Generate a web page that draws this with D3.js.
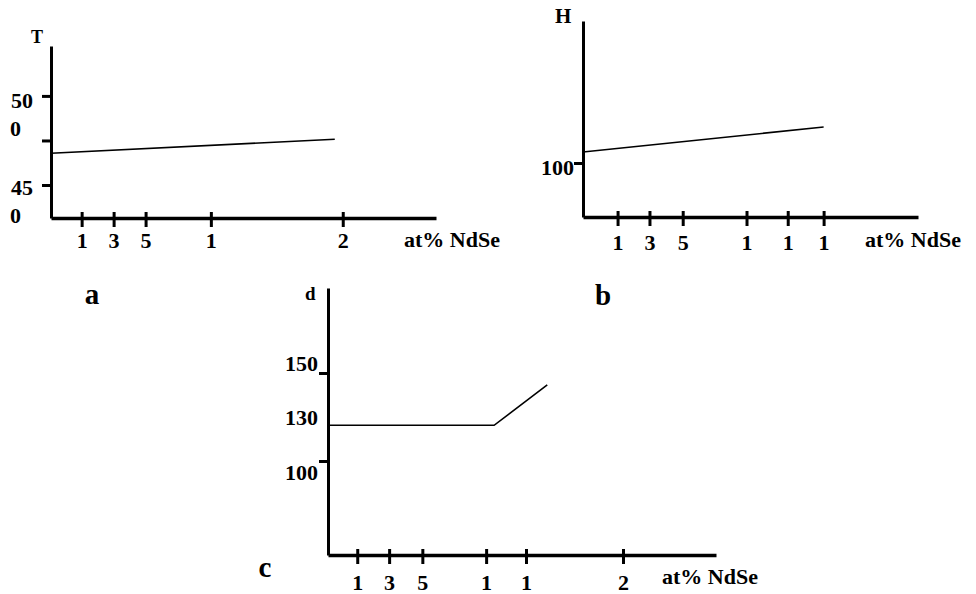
<!DOCTYPE html>
<html>
<head>
<meta charset="utf-8">
<script src="https://cdn.jsdelivr.net/npm/d3@7"></script>
<style>
body { margin: 0; background: #fff; }
text { font-family: "Liberation Serif", "Times New Roman", serif; font-weight: bold; fill: #000; font-size: 22px; }
</style>
</head>
<body>
<svg id="chart" width="976" height="594"></svg>
<script>
// panel a : T against at% NdSe
const aXTicks = [2.3, 4.7, 7.1, 12.0, 21.9];
const aXLabels = ["1", "3", "5", "1", "2"];
const aYTicks = [450, 475, 500];
const aYLabels = [["45", "0"], [], ["50", "0"]];
const aLine = [[0, 467.8], [21.3, 475.7]];

// panel b : H against at% NdSe
const bXTicks = [2.6, 5.0, 7.5, 12.3, 15.4, 18.1];
const bXLabels = ["1", "3", "5", "1", "1", "1"];
const bYTicks = [100];
const bYLabels = [["100"]];
const bLine = [[0, 105.5], [18.1, 118]];

// panel c : d against at% NdSe
const cXTicks = [2.2, 4.6, 7.1, 11.9, 14.9, 22.2];
const cXLabels = ["1", "3", "5", "1", "1", "2"];
const cYTicks = [100, 150];
const cYLabelVals = [150, 130, 100];
const cYLabels = [["150"], ["130"], ["100"]];
const cLine = [[0, 120.3], [12.5, 120.3], [16.5, 143.2]];

const svg = d3.select("#chart");

function panel(p) {
	let g = svg.append("g");
	let x = d3.scaleLinear().domain([0, p.xMax]).range([p.left, p.right]);
	let y = d3.scaleLinear().domain(p.yDomain).range([p.bottom, p.top]);

	let gx = g.append("g")
		.attr("transform", `translate(0,${p.bottom})`)
		.call(d3.axisBottom(x)
			.tickValues(p.xTicks)
			.tickSize(9)
			.tickSizeOuter(0)
			.tickFormat((d, i) => p.xLabels[i]));
	gx.attr("font-size", null).attr("font-family", null);
	gx.select(".domain").attr("stroke-width", 3.5);
	gx.selectAll(".tick line").attr("y1", -6).attr("stroke-width", 3);
	gx.selectAll(".tick text").attr("y", p.xLabelY).attr("dy", 0);

	let gy = g.append("g")
		.attr("transform", `translate(${p.left},0)`)
		.call(d3.axisLeft(y)
			.tickValues(p.yTicks)
			.tickSize(9)
			.tickSizeOuter(0)
			.tickFormat(""));
	gy.select(".domain").attr("stroke-width", 3);
	gy.selectAll(".tick line").attr("stroke-width", 3);

	// y labels, some broken over two lines like the original
	let vals = p.yLabelVals || p.yTicks;
	vals.forEach((v, i) => {
		let lines = p.yLabels[i];
		if (!lines.length) return;
		let t = g.append("text")
			.attr("text-anchor", "end")
			.attr("x", p.yLabelX)
			.attr("y", y(v) + p.yLabelDy[i]);
		lines.forEach((s, k) => {
			t.append("tspan")
				.attr("text-anchor", k === 0 ? "end" : "start")
				.attr("x", k === 0 ? p.yLabelX : p.yLabelX0)
				.attr("dy", k === 0 ? 0 : p.lineGap)
				.text(s);
		});
	});

	g.append("path")
		.datum(p.line)
		.attr("fill", "none")
		.attr("stroke", "#000")
		.attr("stroke-width", 1.6)
		.attr("d", d3.line().x(d => x(d[0])).y(d => y(d[1])));

	g.append("text")
		.attr("x", p.unitX)
		.attr("y", p.unitY)
		.text("at% NdSe");

	g.append("text")
		.attr("x", p.nameX)
		.attr("y", p.nameY)
		.style("font-size", p.nameSize + "px")
		.text(p.name);

	g.append("text")
		.attr("x", p.letterX)
		.attr("y", p.letterY)
		.attr("text-anchor", "middle")
		.style("font-size", "29px")
		.text(p.letter);
}

panel({
	left: 51, right: 436, top: 46, bottom: 218,
	xMax: 28.9, yDomain: [431.5, 528],
	xTicks: aXTicks, xLabels: aXLabels, xLabelY: 30,
	yTicks: aYTicks, yLabels: aYLabels, yLabelX: 33, yLabelX0: 10,
	yLabelDy: [10, 0, 12], lineGap: 28,
	line: aLine,
	unitX: 404, unitY: 247,
	name: "T", nameX: 31, nameY: 43, nameSize: 18,
	letter: "a", letterX: 92, letterY: 304
});

panel({
	left: 583, right: 918, top: 21, bottom: 217,
	xMax: 25.2, yDomain: [73, 171],
	xTicks: bXTicks, xLabels: bXLabels, xLabelY: 33,
	yTicks: bYTicks, yLabels: bYLabels, yLabelX: 574, yLabelX0: 537,
	yLabelDy: [12], lineGap: 0,
	line: bLine,
	unitX: 865, unitY: 247,
	name: "H", nameX: 555, nameY: 23, nameSize: 21,
	letter: "b", letterX: 603, letterY: 305
});

panel({
	left: 328, right: 716, top: 288, bottom: 555,
	xMax: 29.2, yDomain: [46.6, 198.3],
	xTicks: cXTicks, xLabels: cXLabels, xLabelY: 35,
	yTicks: cYTicks, yLabelVals: cYLabelVals, yLabels: cYLabels, yLabelX: 318, yLabelX0: 282,
	yLabelDy: [-2, 17, 19], lineGap: 0,
	line: cLine,
	unitX: 662, unitY: 584,
	name: "d", nameX: 305, nameY: 300, nameSize: 19,
	letter: "c", letterX: 265, letterY: 577
});
</script>
</body>
</html>
